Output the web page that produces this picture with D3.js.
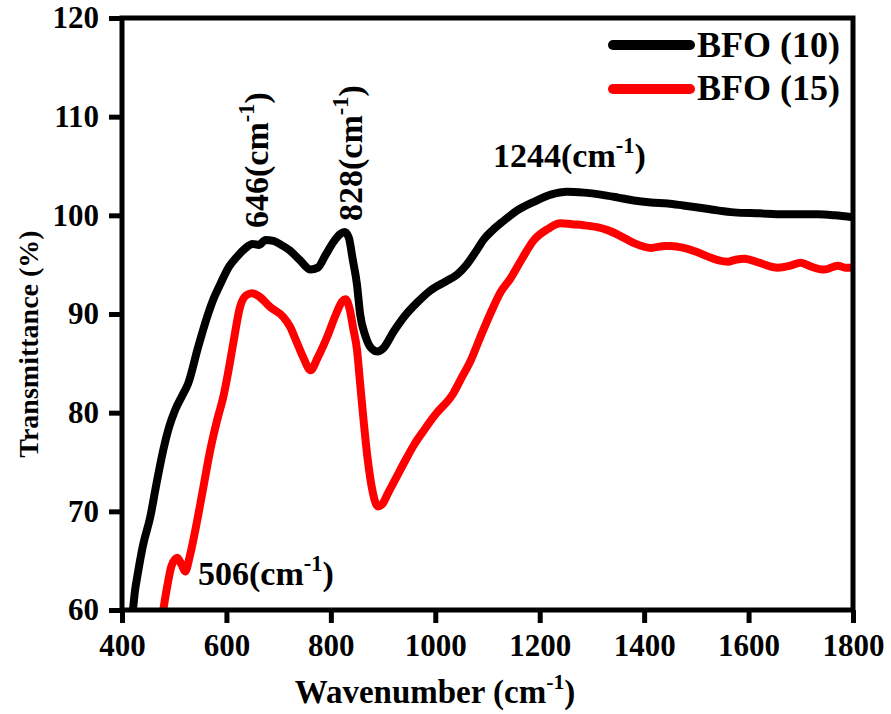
<!DOCTYPE html>
<html><head><meta charset="utf-8">
<script src="https://cdn.jsdelivr.net/npm/d3@7"></script>
<style>
body{margin:0;background:#fff;}
svg text{font-family:"Liberation Serif","Times New Roman",serif;font-weight:bold;fill:#000;}
</style></head>
<body><svg id="c" width="891" height="714"></svg>
<script>
// BFO (10)
const bfo10Wave = [421,425,429,440,454,466,479,490,502,515,527,545,563,575,588,605,620,635,650,662,675,690,705,720,740,761,775,790,805,818,826,834,842,850,856,866,878,889,900,920,940,966,991,1020,1042,1060,1081,1092,1110,1130,1157,1190,1221,1253,1285,1317,1350,1380,1413,1445,1475,1503,1540,1572,1620,1668,1700,1733,1765,1800];
const bfo10T = [60,62,63.3,66.5,69.4,72.8,76.2,78.5,80.3,81.7,83,86.5,89.7,91.5,93,94.8,95.8,96.6,97.1,97.0,97.5,97.4,97.0,96.5,95.5,94.5,94.7,96,97.3,98.1,98.3,97.8,95.5,93,90,87.8,86.5,86.2,86.5,88.2,89.7,91.2,92.4,93.3,94,95,96.6,97.5,98.5,99.4,100.5,101.4,102.1,102.4,102.3,102.1,101.8,101.5,101.3,101.2,101.0,100.8,100.5,100.3,100.2,100.1,100.1,100.1,100.0,99.8];
// BFO (15)
const bfo15Wave = [479,487,495,506,514,521,530,543,556,569,582,594,603,613,626,638,649,662,684,709,722,735,748,761,775,793,810,822,828,836,843,850,856,862,870,880,890,898,910,925,940,960,978,1000,1035,1050,1068,1085,1106,1125,1144,1165,1189,1215,1240,1262,1284,1310,1330,1355,1380,1413,1440,1451,1476,1500,1528,1545,1560,1575,1592,1620,1656,1680,1700,1720,1745,1771,1785,1800];
const bfo15T = [60,62.5,64.5,65.3,64.6,63.9,65.5,68.8,72.5,76.2,79.2,81.6,84,87,90.7,91.9,92.1,91.8,90.7,89.7,88.7,87.1,85.5,84.3,85.6,87.7,90,91.3,91.5,90.5,88.5,86.4,83,79.6,75.5,72,70.5,70.7,71.9,73.4,74.9,76.8,78.2,79.8,82,83.5,85.3,87.5,90.1,92.2,93.6,95.5,97.5,98.6,99.2,99.1,99.0,98.8,98.5,97.9,97.2,96.7,96.9,96.9,96.7,96.3,95.7,95.4,95.3,95.5,95.6,95.2,94.7,94.9,95.2,94.8,94.5,94.9,94.7,94.7];

const xTicks = [400,600,800,1000,1200,1400,1600,1800];
const yTicks = [60,70,80,90,100,110,120];
const seriesNames = ["BFO (10)","BFO (15)"];
const seriesColors = ["#000000","#ff0000"];
const annotations = [
  {num:"646", rotate:true},
  {num:"828", rotate:true},
  {num:"1244", rotate:false},
  {num:"506", rotate:false}
];
const annotPos = [[268,228],[362,221],[493,167],[198,585]];

const svg = d3.select("#c");
const L=122, R=853, T=18, B=610;
const x = d3.scaleLinear().domain([400,1800]).range([L,R]);
const y = d3.scaleLinear().domain([60,120]).range([B,T]);

const defs = svg.append("defs");
defs.append("clipPath").attr("id","clip").append("rect")
  .attr("x",L).attr("y",T).attr("width",R-L).attr("height",B-T);

const line = d3.line().x(d=>x(d[0])).y(d=>y(d[1])).curve(d3.curveMonotoneX);
const data = [d3.zip(bfo10Wave,bfo10T), d3.zip(bfo15Wave,bfo15T)];
svg.append("g").attr("clip-path","url(#clip)")
  .selectAll("path").data(data).join("path")
  .attr("d",line).attr("fill","none")
  .attr("stroke",(d,i)=>seriesColors[i]).attr("stroke-width",8)
  .attr("stroke-linejoin","round").attr("stroke-linecap","butt");

// axes
const xAxis = svg.append("g").attr("transform",`translate(0,${B})`)
  .call(d3.axisBottom(x).tickValues(xTicks).tickSize(13).tickPadding(8).tickFormat(d3.format("d")));
const yAxis = svg.append("g").attr("transform",`translate(${L},0)`)
  .call(d3.axisLeft(y).tickValues(yTicks).tickSize(13).tickPadding(10).tickFormat(d3.format("d")));
[xAxis,yAxis].forEach(g=>{
  g.select(".domain").remove();
  g.selectAll(".tick line").attr("stroke","#000").attr("stroke-width",5);
  g.selectAll(".tick text").attr("font-size",31).style("font-family",'"Liberation Serif","Times New Roman",serif').style("font-weight","bold");
});
xAxis.selectAll(".tick text").attr("dy","0.71em").attr("y",24);
// frame
svg.append("rect").attr("x",L).attr("y",T).attr("width",R-L).attr("height",B-T)
  .attr("fill","none").attr("stroke","#000").attr("stroke-width",5);

function supText(sel, pre, sup, post, fs){
  sel.append("tspan").text(pre);
  sel.append("tspan").attr("font-size",fs*0.66).attr("dy",-fs*0.42).text(sup);
  sel.append("tspan").attr("dy",fs*0.42).text(post);
}

// axis titles
const xt = svg.append("text").attr("x",(295+575)/2).attr("y",703).attr("text-anchor","middle").attr("font-size",33);
supText(xt,"Wavenumber (cm","-1",")",33);
const yt = svg.append("text").attr("transform","translate(38,344) rotate(-90)").attr("text-anchor","middle").attr("font-size",28).text("Transmittance (%)");

// annotations
annotations.forEach((a,i)=>{
  const [px,py]=annotPos[i];
  const t = svg.append("text").attr("font-size",34)
    .attr("transform", a.rotate?`translate(${px},${py}) rotate(-90)`:`translate(${px},${py})`);
  supText(t, a.num+"(cm","-1",")",34);
});

// legend
const legY=[45,89], legTY=[57,100];
seriesNames.forEach((n,i)=>{
  svg.append("line").attr("x1",613).attr("x2",690).attr("y1",legY[i]).attr("y2",legY[i])
    .attr("stroke",seriesColors[i]).attr("stroke-width",10).attr("stroke-linecap","round");
  svg.append("text").attr("x",697).attr("y",legTY[i]).attr("font-size",36).text(n);
});
</script></body></html>
